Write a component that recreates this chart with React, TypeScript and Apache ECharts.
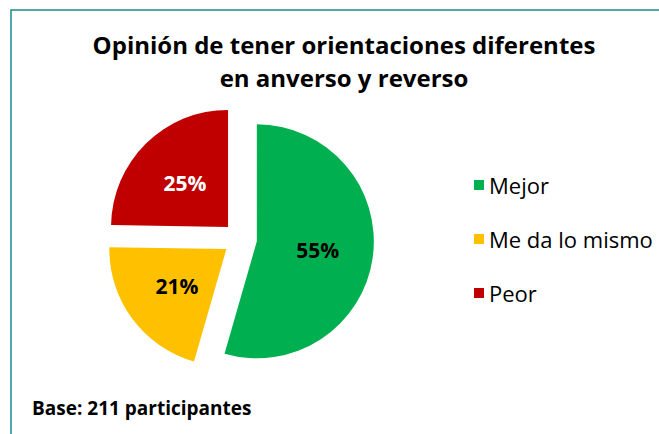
import React, { useEffect, useRef } from "react";
import * as echarts from "echarts";

const titleLines = ["Opinión de tener orientaciones diferentes", "en anverso y reverso"];
const categories = ["Mejor", "Me da lo mismo", "Peor"];
const values = [55, 21, 25];
const colors = ["#00B050", "#FFC000", "#C00000"];
const labelColors = ["#000000", "#000000", "#FFFFFF"];
const baseNote = "Base: 211 participantes";

const FONT = "'Open Sans', 'Noto Sans', sans-serif";

export default function App() {
  const ref = useRef<HTMLDivElement>(null);
  useEffect(() => {
    if (!ref.current) return;
    const chart = echarts.init(ref.current, null, { renderer: "svg" });
    chart.setOption({
      animation: false,
      backgroundColor: "#ffffff",
      title: {
        text: titleLines.join("\n"),
        left: 339,
        top: 23,
        textAlign: "center",
        textStyle: {
          fontFamily: FONT,
          fontWeight: "bold",
          fontSize: 24,
          lineHeight: 33,
          color: "#000000",
        },
      },
      legend: {
        orient: "vertical",
        left: 469,
        top: 168,
        icon: "rect",
        itemWidth: 10,
        itemHeight: 10,
        itemGap: 30,
        data: categories,
        selectedMode: false,
        textStyle: {
          fontFamily: FONT,
          fontSize: 22,
          lineHeight: 24,
          color: "#000000",
          padding: [0, 0, 0, 0],
        },
      },
      graphic: [
        {
          type: "polyline",
          shape: { points: [[11, 440], [11, 10], [670, 10]] },
          style: { stroke: "#1A8C8C", lineWidth: 1.5, fill: "none" },
          silent: true,
        },
        {
          type: "text",
          left: 32,
          top: 398,
          style: {
            text: baseNote,
            fontFamily: FONT,
            fontWeight: "bold",
            fontSize: 19,
            fill: "#000000",
          },
        },
      ],
      series: [
        {
          type: "pie",
          center: [240, 239],
          radius: [0, 117],
          startAngle: 90,
          clockwise: true,
          selectedMode: "multiple",
          selectedOffset: 17,
          silent: true,
          label: {
            show: true,
            position: "inside",
            formatter: "{c}%",
            fontFamily: FONT,
            fontWeight: "bold",
            fontSize: 21,
          },
          labelLine: { show: false },
          data: categories.map((name, i) => ({
            name,
            value: values[i],
            selected: true,
            itemStyle: { color: colors[i] },
            label: { color: labelColors[i] },
          })),
        },
      ],
    });
    return () => chart.dispose();
  }, []);
  return (
    <div
      ref={ref}
      style={{ position: "fixed", left: 0, top: 0, width: 659, height: 434 }}
    />
  );
}
